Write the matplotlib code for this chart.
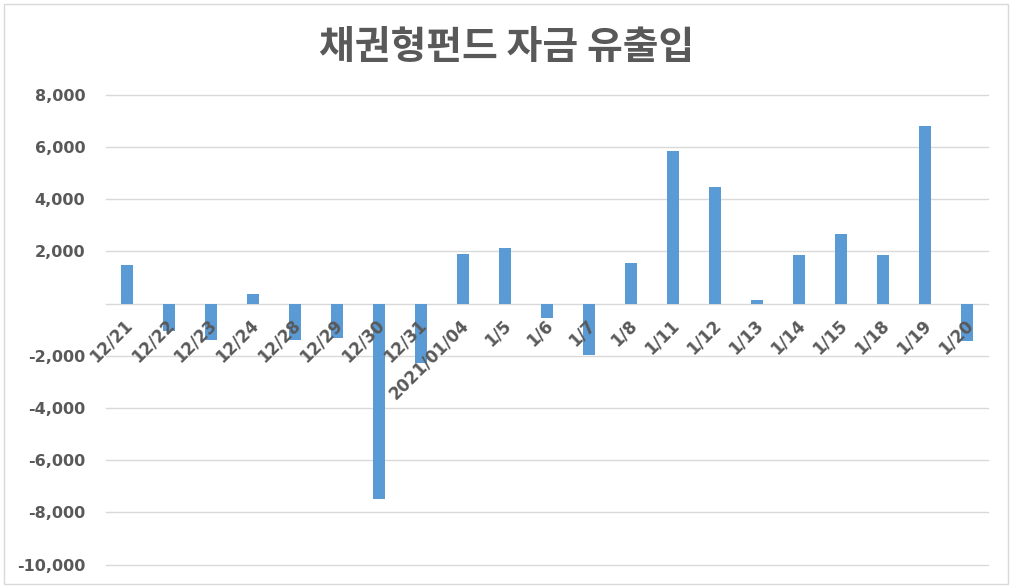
import matplotlib.pyplot as plt
from matplotlib.patches import Rectangle

# 채권형펀드 자금 유출입 (억원)
dates = ["12/21", "12/22", "12/23", "12/24", "12/28", "12/29", "12/30", "12/31",
         "2021/01/04", "1/5", "1/6", "1/7", "1/8", "1/11", "1/12", "1/13",
         "1/14", "1/15", "1/18", "1/19", "1/20"]
flows = [1480, -1050, -1380, 370, -1380, -1330, -7500, -2270,
         1900, 2130, -550, -1950, 1570, 5830, 4470, 130,
         1850, 2680, 1850, 6810, -1430]
yticks = list(range(-10000, 8001, 2000))

plt.rcParams['font.family'] = ['Noto Sans CJK KR', 'DejaVu Sans']
grey = "#595959"

fig = plt.figure(figsize=(10.14, 5.88), dpi=100)
fig.patches.append(Rectangle((4 / 1014, 4 / 588), 1004 / 1014, 580 / 588,
                             transform=fig.transFigure, fill=False,
                             edgecolor="#D9D9D9", linewidth=1))
ax = fig.add_axes([106 / 1014, 1 - 564.7 / 588, (988 - 106) / 1014, (564.7 - 94.7) / 588])

x = list(range(len(dates)))
ax.bar(x, flows, width=0.3, color="#5B9BD5", zorder=3)

ax.set_ylim(-10000, 8000)
ax.set_xlim(-0.5, len(dates) - 0.5)
ax.set_yticks(yticks)
ax.set_yticklabels([f"{v:,}" if v != 0 else "" for v in yticks], fontsize=11.5,
                   fontweight="bold", color=grey, family="DejaVu Sans")
ax.tick_params(axis="y", length=0, pad=15)
ax.set_xticks([])
ax.grid(axis="y", color="#D9D9D9", linewidth=1, zorder=0)
for gl in ax.get_ygridlines():
    gl.set_clip_on(False)
for s in ax.spines.values():
    s.set_visible(False)

for i, d in enumerate(dates):
    ax.text(i - 0.08, -480, d, rotation=45, ha="right", va="top",
            rotation_mode="anchor", fontsize=12, fontweight="bold",
            color=grey, family="DejaVu Sans", zorder=4)

fig.text(0.5, 1 - 47 / 588, "채권형펀드 자금 유출입", ha="center", va="center",
         fontsize=28, fontweight="bold", color=grey)

fig.savefig("out.png", dpi=100)
